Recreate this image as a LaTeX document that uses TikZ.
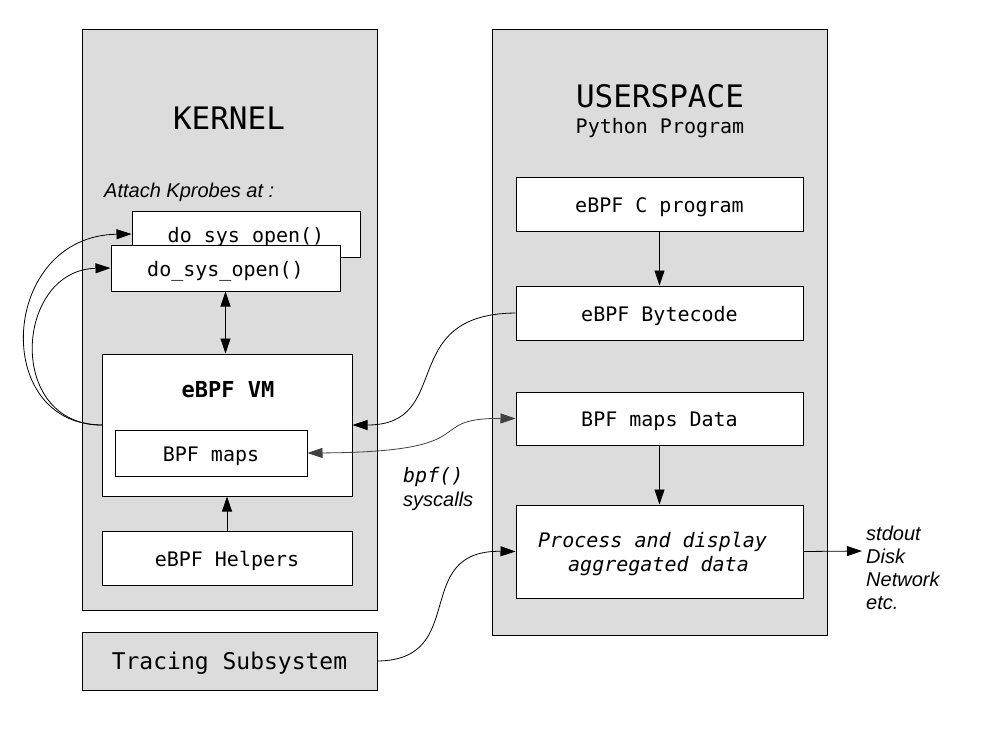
\documentclass[tikz,border=0pt]{standalone}
\usepackage{fontspec}
\setmainfont{Liberation Sans}
\setmonofont{DejaVu Sans Mono}
\usetikzlibrary{arrows.meta}
\definecolor{panel}{HTML}{DCDCDC}
\tikzset{
  box/.style={draw=black, line width=1pt, fill=white, inner sep=0pt, text height=20.5pt, text depth=4.5pt, font=\fontsize{20}{24}\selectfont\ttfamily},
  panelbox/.style={draw=black, line width=1pt, fill=panel, inner sep=0pt},
  conn/.style={line width=0.8pt, -{Triangle[length=15pt,width=10pt]}},
  dconn/.style={line width=0.8pt, {Triangle[length=15pt,width=10pt]}-{Triangle[length=15pt,width=10pt]}},
  note/.style={inner sep=0pt, font=\fontsize{20}{23}\selectfont\itshape}
}
\begin{document}
\begin{tikzpicture}[x=1pt,y=-1pt]
\useasboundingbox (0,0) rectangle (983,737);
% panels
\node[panelbox, minimum width=295pt, minimum height=581pt] (kernel) at (229.5,319.5) {};
\node[panelbox, minimum width=335pt, minimum height=606pt] (user) at (659.5,332) {};
\node[inner sep=0pt, font=\fontsize{31}{36}\selectfont\ttfamily] (ktitle) at (229,118) {KERNEL};
\node[inner sep=0pt, font=\fontsize{31}{36}\selectfont\ttfamily] (utitle) at (660,96) {USERSPACE};
\node[inner sep=0pt, font=\fontsize{20}{24}\selectfont\ttfamily] (usub) at (660,128) {Python Program};
\node[note, anchor=west] (attach) at (104,192) {Attach Kprobes at :};
% kernel boxes
\node[box, minimum width=228pt, minimum height=46pt] (dsoB) at (246,234) {do\_sys\_open()};
\node[box, minimum width=229pt, minimum height=46pt] (dsoF) at (225.5,268) {do\_sys\_open()};
\node[box, minimum width=250pt, minimum height=142pt] (vm) at (227,425) {};
\node[inner sep=0pt, font=\fontsize{22}{26}\selectfont\ttfamily\bfseries] (vmlabel) at (228,390) {eBPF VM};
\node[box, minimum width=192pt, minimum height=46pt] (maps) at (211,453) {BPF maps};
\node[box, minimum width=250pt, minimum height=54pt] (helpers) at (227,558) {eBPF Helpers};
\node[panelbox, minimum width=295pt, minimum height=58pt, text height=21.5pt, text depth=5.5pt, font=\fontsize{23}{27}\selectfont\ttfamily] (tracing) at (229.5,661) {Tracing Subsystem};
% userspace boxes
\node[box, minimum width=287pt, minimum height=54pt] (cprog) at (659.5,204) {eBPF C program};
\node[box, minimum width=287pt, minimum height=54pt] (bytecode) at (659.5,313) {eBPF Bytecode};
\node[box, minimum width=287pt, minimum height=53pt] (mapsdata) at (659.5,418.5) {BPF maps Data};
\node[box, minimum width=287pt, minimum height=93pt] (process) at (659.5,551.5) {};
\node[inner sep=0pt, anchor=west, font=\fontsize{20}{24}\selectfont\ttfamily\itshape] (p1) at (538,542) {Process and display};
\node[inner sep=0pt, anchor=west, font=\fontsize{20}{24}\selectfont\ttfamily\itshape] (p2) at (568,566) {aggregated data};
% labels
\node[inner sep=0pt, anchor=west, font=\fontsize{20}{24}\selectfont\ttfamily\itshape] (bpf) at (403,477) {bpf()};
\node[note, anchor=west] (sysc) at (403,501) {syscalls};
\node[note, anchor=north west, align=left] (outs) at (866,526) {stdout\\Disk\\Network\\etc.};
\coordinate (outend) at (862,551);
% connectors
\coordinate (vmleft) at (102,425);
\draw[conn] (vmleft) .. controls (-10,425) and (0,236) .. (dsoB.west);
\draw[conn] (vmleft) .. controls (5,425) and (15,270) .. (dsoF.west);
\draw[dconn] (dsoF.south) -- (dsoF.south |- vm.north);
\draw[conn] (helpers.north) -- (vm.south);
\draw[conn] (cprog.south) -- (bytecode.north);
\draw[conn] (mapsdata.south) -- (process.north);
\draw[conn] (process.east) -- (outend);
\draw[conn] (bytecode.west) .. controls (395,314) and (455,425) .. (vm.east);
\draw[dconn, draw=black!75] (maps.east) .. controls (490,452) and (420,418) .. (mapsdata.west);
\draw[conn] (tracing.east) .. controls (470,660) and (410,550) .. (process.west);
\end{tikzpicture}
\end{document}
